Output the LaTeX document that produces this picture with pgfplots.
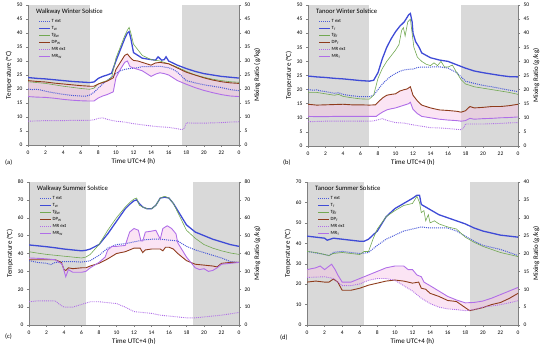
\documentclass[border=0pt]{standalone}
\usepackage{pgfplots}
\pgfplotsset{compat=1.18}
\usepgfplotslibrary{fillbetween}
\usepackage{fontspec}
\setmainfont{Carlito}
\definecolor{cT}{HTML}{3F4BD6}
\definecolor{cText}{HTML}{4A5AD8}
\definecolor{cTg}{HTML}{72A852}
\definecolor{cDP}{HTML}{8E3B1B}
\definecolor{cMR}{HTML}{B06EE8}
\definecolor{cgray}{HTML}{D9D9D9}
\definecolor{cpink}{HTML}{F6C4E6}
\definecolor{caxis}{HTML}{808080}
\tikzset{ttl/.style={anchor=north west, font=\fontsize{6.7}{7.5}\selectfont, inner sep=0pt}}
\pgfplotsset{
 panel/.style={scale only axis, anchor=south west, xmin=0, xmax=24, ymin=0,
  xtick={0,2,...,24}, xticklabels={0,2,4,6,8,10,12,14,16,18,20,22,0},
  axis x line*=bottom, axis y line*=left,
  axis line style={caxis, line width=0.6pt, -}, tick style={caxis, line width=0.4pt},
  tick align=outside, major tick length=2bp,
  tick label style={font=\fontsize{5.5}{6}\selectfont},
  label style={font=\fontsize{7}{8}\selectfont},
  /pgf/number format/assume math mode=true,
  xlabel={Time UTC+4 (h)}, ylabel={Temperature (°C)},
  xlabel style={yshift=3pt}, ylabel style={yshift=-2pt},
  set layers,
  legend style={at={(axis description cs:0.05,0.905)}, anchor=north west, draw=none, fill=none,
   font=\fontsize{4.8}{5.2}\selectfont, row sep=1.3pt, inner sep=0pt,
   nodes={inner sep=0.6pt}},
  legend cell align=left,
  legend image code/.code={\draw[##1] (0bp,0bp) -- (11bp,0bp);},
 },
 rpanel/.style={scale only axis, anchor=south west, xmin=0, xmax=24, ymin=0,
  axis x line=none, axis y line*=right,
  axis line style={caxis, line width=0.6pt, -}, tick style={caxis, line width=0.4pt},
  tick align=outside, major tick length=2bp,
  tick label style={font=\fontsize{5.5}{6}\selectfont},
  label style={font=\fontsize{7}{8}\selectfont},
  /pgf/number format/assume math mode=true,
  ylabel={Mixing Ratio (g/kg)}, ylabel style={yshift=3pt}},
 sText/.style={cText, densely dotted, line width=1pt},
 sT/.style={cT, line width=1.3pt},
 sTg/.style={cTg, line width=0.6pt},
 sDP/.style={cDP, line width=0.9pt},
 sMRext/.style={cMR, densely dotted, line width=0.9pt},
 sMR/.style={cMR, line width=0.9pt},
 sGray/.style={fill=cgray, draw=none, forget plot, on layer=axis background},
 sBand/.style={fill=cpink, fill opacity=0.45, draw=none, forget plot},
}
\begin{document}
\begin{tikzpicture}
% ================= (a) =================
\begin{axis}[panel, at={(28bp,203bp)}, width=211bp, height=140bp, ymax=50, ytick={0,5,...,50}]
\addplot[sGray] coordinates {(0,0)(7,0)(7,50)(0,50)} -- cycle;
\addplot[sGray] coordinates {(17.5,0)(24,0)(24,50)(17.5,50)} -- cycle;
\addplot[sText] coordinates {(0,20)(0.5,19.8)(1,19.9)(1.5,19.6)(2,19.2)(3,18.6)(4,18.1)(5,17.7)(6,17.5)(6.5,17.4)(7,17.8)(7.5,18.8)(8,20.3)(8.5,21.8)(9,23)(9.5,24.3)(10,25.5)(10.5,26.5)(11,27)(11.5,27.3)(12,27.4)(12.5,27.6)(13,28)(14,28)(15,28.1)(16,27.6)(16.5,27)(17,26)(17.5,24.5)(18,23)(19,22.2)(20,21.5)(21,21)(22,20.5)(23,19.8)(24,19.4)};
\addlegendentry{T ext}
\addplot[sT] coordinates {(0,24.1)(1,23.8)(2,23.6)(3,23.3)(4,23)(5,22.7)(6,22.5)(7,22.3)(7.5,22.5)(8,23.8)(8.5,24.5)(9,25)(9.5,25.6)(10,30)(10.5,34)(11,38)(11.3,40)(11.5,40.5)(11.7,38)(12,33)(12.5,32)(13,31)(14,30.5)(14.5,30.3)(14.8,31.5)(15.2,30.3)(15.5,30.5)(15.7,31.5)(16,30)(17,28.5)(18,27.3)(19,26.3)(20,25.5)(21,25)(22,24.5)(23,24.2)(24,23.9)};
\addlegendentry{T\textsubscript{W}}
\addplot[sTg] coordinates {(0,22.6)(1,22.3)(2,22)(3,21.5)(4,21)(5,20.6)(6,20.2)(7,19.9)(7.5,20.3)(8,21.8)(8.5,22.5)(9,23)(9.5,24)(10,31)(10.5,35)(11,39)(11.3,41)(11.5,42)(11.7,40)(12,36)(12.5,34)(13,32)(14,30.5)(15,30)(16,29)(17,27.8)(18,26.3)(19,25)(20,24.2)(21,23.5)(22,23)(23,22.6)(24,22.4)};
\addlegendentry{Tg\textsubscript{W}}
\addplot[sDP, name path=dpa] coordinates {(0,23)(1,22.7)(2,22.5)(3,22.1)(4,21.8)(5,21.5)(6,21.2)(7,21)(7.5,21)(8,21.8)(9,22.8)(9.7,24)(10,27)(10.5,29.5)(11,32)(11.3,32.5)(11.7,31)(12,30.2)(12.5,30)(13,29.5)(13.5,29)(14,28.5)(14.5,29.3)(15,29.5)(16,29)(17,27.5)(18,26)(19,25)(20,24)(21,23.2)(22,22.6)(23,22.2)(24,22)};
\addlegendentry{DP\textsubscript{W}}
\addplot[sMRext] coordinates {(0,8.5)(1,8.6)(2,8.7)(3,8.7)(4,8.7)(5,8.8)(6,8.8)(7,8.8)(7.5,9)(8,9.5)(8.5,9.7)(9,9.2)(9.5,8.8)(10,8.5)(11,8.2)(12,7.6)(13,7.2)(14,6.8)(15,6.5)(16,6.3)(17,5.8)(17.5,5.5)(17.8,6)(18,7.9)(19,7.8)(20,7.8)(21,7.9)(22,8)(23,8.2)(24,8.3)};
\addlegendentry{MR ext}
\addplot[sMR, name path=mra] coordinates {(0,17.3)(1,17.1)(2,17)(3,16.7)(4,16.3)(5,16)(6,15.8)(7,15.7)(7.5,15.7)(8,16.8)(8.5,17.5)(9,18)(9.7,19)(10,24)(10.5,27)(11,29.5)(11.3,30)(11.6,28)(12,27.5)(12.5,27)(13,26.5)(13.5,25.5)(14,24.5)(14.5,25.3)(15,25.8)(15.5,25.5)(16,25)(16.5,24)(17,23)(18,21.7)(19,20.5)(20,19.5)(21,18.7)(22,18)(23,17.5)(24,17.3)};
\addlegendentry{MR\textsubscript{W}}
\addplot[sBand] fill between[of=dpa and mra];
\node[ttl] at (axis description cs:0.038,0.975) {Walkway Winter Solstice};
\end{axis}
\begin{axis}[rpanel, at={(28bp,203bp)}, width=211bp, height=140bp, ymax=50, ytick={0,5,...,50}]
\addplot[draw=none] coordinates {(0,0)(24,50)};
\end{axis}
% ================= (b) =================
\begin{axis}[panel, at={(308bp,202bp)}, width=210bp, height=141bp, ymax=50, ytick={0,5,...,50}]
\addplot[sGray] coordinates {(0,0)(7,0)(7,50)(0,50)} -- cycle;
\addplot[sGray] coordinates {(17.5,0)(24,0)(24,50)(17.5,50)} -- cycle;
\addplot[sText] coordinates {(0,20)(0.5,19.8)(1,19.9)(1.5,19.5)(2,19.3)(3,18.7)(3.5,18.9)(4,18.3)(5,17.8)(6,17.5)(7,17.5)(7.5,18)(8,20)(8.5,22)(9,23.5)(9.5,24.8)(10,25.7)(10.5,26.5)(11,27)(11.5,27.2)(12,27.3)(12.5,27.8)(13,28)(14,28)(15,28.1)(16,27.6)(17,26)(17.5,24.5)(18,23)(19,22.2)(20,21.5)(21,21)(22,20.4)(23,19.8)(24,19.3)};
\addlegendentry{T ext}
\addplot[sT] coordinates {(0,24.8)(1,24.5)(2,24.3)(3,24)(4,23.8)(5,23.5)(6,23.2)(7,23)(7.5,23.3)(8,26)(8.5,31)(9,35)(9.5,38)(10,40.5)(10.5,42.5)(11,44)(11.5,46.5)(11.7,47)(11.9,44)(12,40)(12.3,37)(12.7,35)(13,33)(14,31.3)(15,30.5)(16,30)(17,28.8)(18,27.6)(19,26.6)(20,26)(21,25.5)(22,25)(23,24.6)(24,24.5)};
\addlegendentry{T\textsubscript{T}}
\addplot[sTg] coordinates {(0,19)(1,19)(2,18.5)(3,18)(3.5,18.3)(4,17.6)(5,17.1)(6,16.7)(7,16.6)(7.5,18)(8,24)(8.5,27.5)(9,30)(9.5,32)(10,34)(10.4,36)(10.7,41)(10.9,42)(11.1,39)(11.4,44)(11.7,45)(11.9,40)(12.1,35)(12.5,31.5)(13,30)(13.5,29)(14,28.5)(14.4,29.5)(14.8,28.5)(15.2,30)(15.6,28)(16,28)(16.5,28.7)(17,26)(17.5,23.5)(18,22)(19,21)(20,20.5)(21,20)(22,19.5)(23,19)(24,18.3)};
\addlegendentry{Tg\textsubscript{T}}
\addplot[sDP, name path=dpb] coordinates {(0,14.8)(1,14.5)(2,14.6)(3,14.7)(4,14.8)(5,14.6)(6,14.6)(7,14.5)(7.7,14.6)(8,15.5)(8.5,17)(9,18)(9.5,18.3)(10,18.5)(10.5,19.5)(11,20)(11.3,20.2)(11.7,21)(12,18)(12.5,16)(13,14.5)(14,13.5)(15,12.8)(16,12.6)(17,12.3)(17.5,12)(18,12.5)(18.5,14)(19,13.5)(20,13.7)(21,14)(22,14)(23,14.3)(24,14.8)};
\addlegendentry{DP\textsubscript{T}}
\addplot[sMRext] coordinates {(0,8.6)(1,8.7)(2,8.8)(3,8.8)(4,8.8)(5,8.8)(6,8.8)(7,8.8)(7.5,8.9)(8,9.3)(8.5,9.7)(9,9.1)(10,8.3)(11,8.1)(12,7.5)(13,7)(14,6.5)(15,6.4)(16,6.2)(17,5.9)(17.5,5.8)(17.8,6.5)(18,7.8)(19,7.8)(20,7.8)(21,7.9)(22,8)(23,8.2)(24,8.3)};
\addlegendentry{MR ext}
\addplot[sMR, name path=mrb] coordinates {(0,10.5)(1,10.4)(2,10.4)(3,10.5)(4,10.5)(5,10.5)(6,10.5)(7,10.5)(7.8,10.5)(8,11)(8.5,12)(9,12.8)(9.5,13.2)(10,13.5)(10.5,14)(11,14.5)(11.5,15)(11.7,15.5)(12,13)(12.5,11.5)(13,10.5)(14,10)(15,9.5)(16,9.2)(17,9)(17.5,8.8)(18,9)(18.5,9.8)(19,9.5)(20,9.7)(21,9.8)(22,10)(23,10.1)(24,10.3)};
\addlegendentry{MR\textsubscript{T}}
\addplot[sBand] fill between[of=dpb and mrb];
\node[ttl] at (axis description cs:0.038,0.975) {Tanoor Winter Solstice};
\end{axis}
\begin{axis}[rpanel, at={(308bp,202bp)}, width=210bp, height=141bp, ymax=50, ytick={0,5,...,50}]
\addplot[draw=none] coordinates {(0,0)(24,50)};
\end{axis}
% ================= (c) =================
\begin{axis}[panel, at={(29bp,23bp)}, width=210bp, height=143bp, ymax=80, ytick={0,10,...,80}]
\addplot[sGray] coordinates {(0,0)(6.5,0)(6.5,80)(0,80)} -- cycle;
\addplot[sGray] coordinates {(18.7,0)(24,0)(24,80)(18.7,80)} -- cycle;
\addplot[sText] coordinates {(0,36)(1,35)(2,34.5)(2.5,33.8)(3,35)(4,35.5)(5,35.5)(6,35.2)(6.5,35.5)(7,36)(8,39)(9,43)(10,45)(11,45.5)(12,46.5)(13,47.5)(14,48)(15,48)(16,47.5)(17,47)(18,44)(19,42)(20,40.5)(21,39)(22,37.5)(23,35.5)(24,35)};
\addlegendentry{T ext}
\addplot[sT] coordinates {(0,44.8)(1,44.3)(2,43.8)(3,43.2)(4,42.5)(5,42)(6,41.5)(6.5,41.8)(7,42.5)(8,45)(9,51)(10,58)(11,65)(11.5,67.5)(12,69.5)(12.3,70)(12.6,68)(13,66)(13.5,65)(14,65)(14.5,67)(15,71)(15.5,71.5)(16,71)(16.5,68)(17,64)(17.5,60)(18,56)(19,52)(20,50)(21,48)(22,46.5)(23,45)(24,44)};
\addlegendentry{T\textsubscript{W}}
\addplot[sTg] coordinates {(0,41)(1,40.2)(2,39.5)(3,39)(4,38.5)(5,38)(6,37.5)(6.5,38)(7,39.5)(8,45)(9,53)(10,60)(11,66)(11.5,68.5)(12,70.5)(12.3,71)(12.6,67)(13,66)(13.5,65)(14,65)(14.5,67)(15,71)(15.5,72)(16,71)(16.5,68)(17,63)(17.5,58)(18,53)(19,48.5)(20,45)(21,43)(22,41.5)(23,40.3)(24,39.5)};
\addlegendentry{Tg\textsubscript{W}}
\addplot[sDP, name path=dpc] coordinates {(0,36.5)(1,36.5)(2,36.5)(3,36.5)(3.7,35)(4,31)(4.2,30.5)(4.5,32)(5,31.5)(6,32)(6.5,32)(7,33)(8,34.5)(9,37)(10,40)(11,41)(12,43)(12.7,43)(13,40.5)(13.3,42)(14,42.5)(15,42.5)(15.3,41.5)(15.6,43.5)(16,43.5)(16.5,42.5)(17,40)(17.5,38)(18,36)(18.5,35)(19,34)(20,33.5)(21,33)(21.5,32.5)(22,34.5)(23,35)(24,35)};
\addlegendentry{DP\textsubscript{W}}
\addplot[sMRext] coordinates {(0,13)(1,13.5)(2,13.5)(3,13.5)(3.5,11.5)(4,10)(5,10)(6,11.5)(7,13)(8,13)(9,12.5)(10,12)(11,10)(12,7.5)(13,7)(14,6.5)(15,5.5)(16,5)(17,4.5)(18,4)(19,4)(20,4.5)(22,5.5)(24,7)};
\addlegendentry{MR ext}
\addplot[sMR, name path=mrc] coordinates {(0,37.5)(1,37.3)(2,37)(3,36.5)(3.8,34)(4.2,27)(4.5,31)(5,29.5)(6,29.5)(6.5,30)(7,32)(8,35)(8.7,38)(9,42)(9.5,44)(10,44)(11,44.5)(11.5,52)(12,54)(12.5,53)(12.8,47)(13,47)(13.3,52)(14,52.5)(14.5,53)(15,48)(15.3,54)(15.8,55.5)(16.3,54)(16.8,51)(17,46)(17.5,42)(18,38)(18.5,35)(19,32)(19.5,31)(20,31.5)(20.5,30)(21,30.5)(21.5,32)(22,34)(23,34.5)(24,35)};
\addlegendentry{MR\textsubscript{W}}
\addplot[sBand] fill between[of=dpc and mrc];
\node[ttl] at (axis description cs:0.038,0.975) {Walkway Summer Solstice};
\end{axis}
\begin{axis}[rpanel, at={(29bp,23bp)}, width=210bp, height=143bp, ymax=80, ytick={0,10,...,80}]
\addplot[draw=none] coordinates {(0,0)(24,80)};
\end{axis}
% ================= (d) =================
\begin{axis}[panel, at={(307bp,23bp)}, width=211bp, height=143bp, ymax=70, ytick={0,10,...,70}]
\addplot[sGray] coordinates {(0,0)(6.5,0)(6.5,70)(0,70)} -- cycle;
\addplot[sGray] coordinates {(18.5,0)(24,0)(24,70)(18.5,70)} -- cycle;
\addplot[sText] coordinates {(0,36)(1,35.3)(2,34.5)(2.5,34)(3,35.5)(4,36)(5,35.5)(6,35)(6.5,35.2)(7,35.5)(8,39)(9,42)(10,44)(11,46)(12,47)(13,48)(14,47.5)(15,47.5)(16,47.5)(17,46)(18,43.5)(19,41)(20,39)(21,38)(22,37)(23,35.5)(24,34)};
\addlegendentry{T ext}
\addplot[sT] coordinates {(0,43.5)(1,43)(2,42.5)(2.3,41.5)(3,42.5)(4,42)(5,41.5)(6,41)(6.5,41)(7,42)(8,46)(9,53)(10,57)(11,59.5)(12,62)(12.5,63.5)(12.8,63.5)(13,59)(14,56.5)(15,54)(16,52.5)(17,51)(18,49.5)(19,47.5)(20,46)(21,45)(22,44)(23,43.5)(24,43)};
\addlegendentry{T\textsubscript{T}}
\addplot[sTg] coordinates {(0,36)(1,35.5)(2,34.5)(2.5,34)(3,35)(4,35.5)(5,35)(6,34.5)(6.5,36)(7,36)(7.5,42)(8,47)(9,53)(10,56)(11,58.5)(12,59.5)(12.5,63)(12.8,60)(13,55)(13.3,56)(13.5,51)(13.8,54)(14,50)(14.5,51)(15,49.5)(16,48)(17,47)(18,43)(19,40.5)(20,38.5)(21,37)(22,35.5)(23,34.5)(24,33.5)};
\addlegendentry{Tg\textsubscript{T}}
\addplot[sDP] coordinates {(0,21)(1,21.5)(2,21)(2.5,21)(3,22.5)(3.5,21)(4,17)(5,17)(6,18)(7,19.5)(8,20.5)(9,21.5)(10,22)(11,21.5)(12,20.5)(12.7,21)(13,18)(13.5,17.5)(14,15.5)(15,14)(16,12)(17,11.5)(18,8.5)(18.5,7)(19,7.5)(20,8.5)(21,10)(22,11)(23,13)(24,15.5)};
\addlegendentry{DP\textsubscript{T}}
\addlegendimage{sMRext}
\addlegendentry{MR ext}
\addlegendimage{sMR}
\addlegendentry{MR\textsubscript{T}}
\node[ttl] at (axis description cs:0.038,0.975) {Tanoor Summer Solstice};
\end{axis}
\begin{axis}[rpanel, set layers, at={(307bp,23bp)}, width=211bp, height=143bp, ymax=40, ytick={0,5,...,40}]
\addplot[sMRext, name path=mrxd] coordinates {(0,13.3)(1,13.4)(2,13.5)(3,13)(4,11)(5,11)(6,11.5)(7,12.5)(8,13)(9,13)(10,12.5)(11,11)(12,9.5)(13,7.5)(14,6)(15,5)(16,4.5)(17,4.3)(18,4)(19,4.3)(20,5)(21,5.3)(22,5.7)(23,6.2)(24,6.8)};
\addplot[sMR, name path=mrd] coordinates {(0,15.5)(1,16)(1.5,16.5)(2,15.5)(2.8,17)(3.2,15.5)(3.5,14)(4,12)(5,12)(6,13)(7,14)(8,15)(9,16)(10,16.5)(11,16.5)(11.5,15.5)(12,15.5)(12.5,14)(13,13.5)(13.3,12)(14,11)(15,9.5)(16,8)(17,7)(18,6.2)(19,6.3)(20,6.7)(21,7.5)(22,8.5)(23,9.5)(24,10.5)};
\addplot[sBand] fill between[of=mrxd and mrd];
\end{axis}
% panel letters
\node[anchor=west, font=\fontsize{6.5}{7}\selectfont, inner sep=0pt] at (5bp,185bp) {(a)};
\node[anchor=west, font=\fontsize{6.5}{7}\selectfont, inner sep=0pt] at (283bp,185bp) {(b)};
\node[anchor=west, font=\fontsize{6.5}{7}\selectfont, inner sep=0pt] at (5bp,11bp) {(c)};
\node[anchor=west, font=\fontsize{6.5}{7}\selectfont, inner sep=0pt] at (280bp,10bp) {(d)};
\pgfresetboundingbox
\useasboundingbox (0,0) rectangle (550bp,348bp);
\end{tikzpicture}
\end{document}
